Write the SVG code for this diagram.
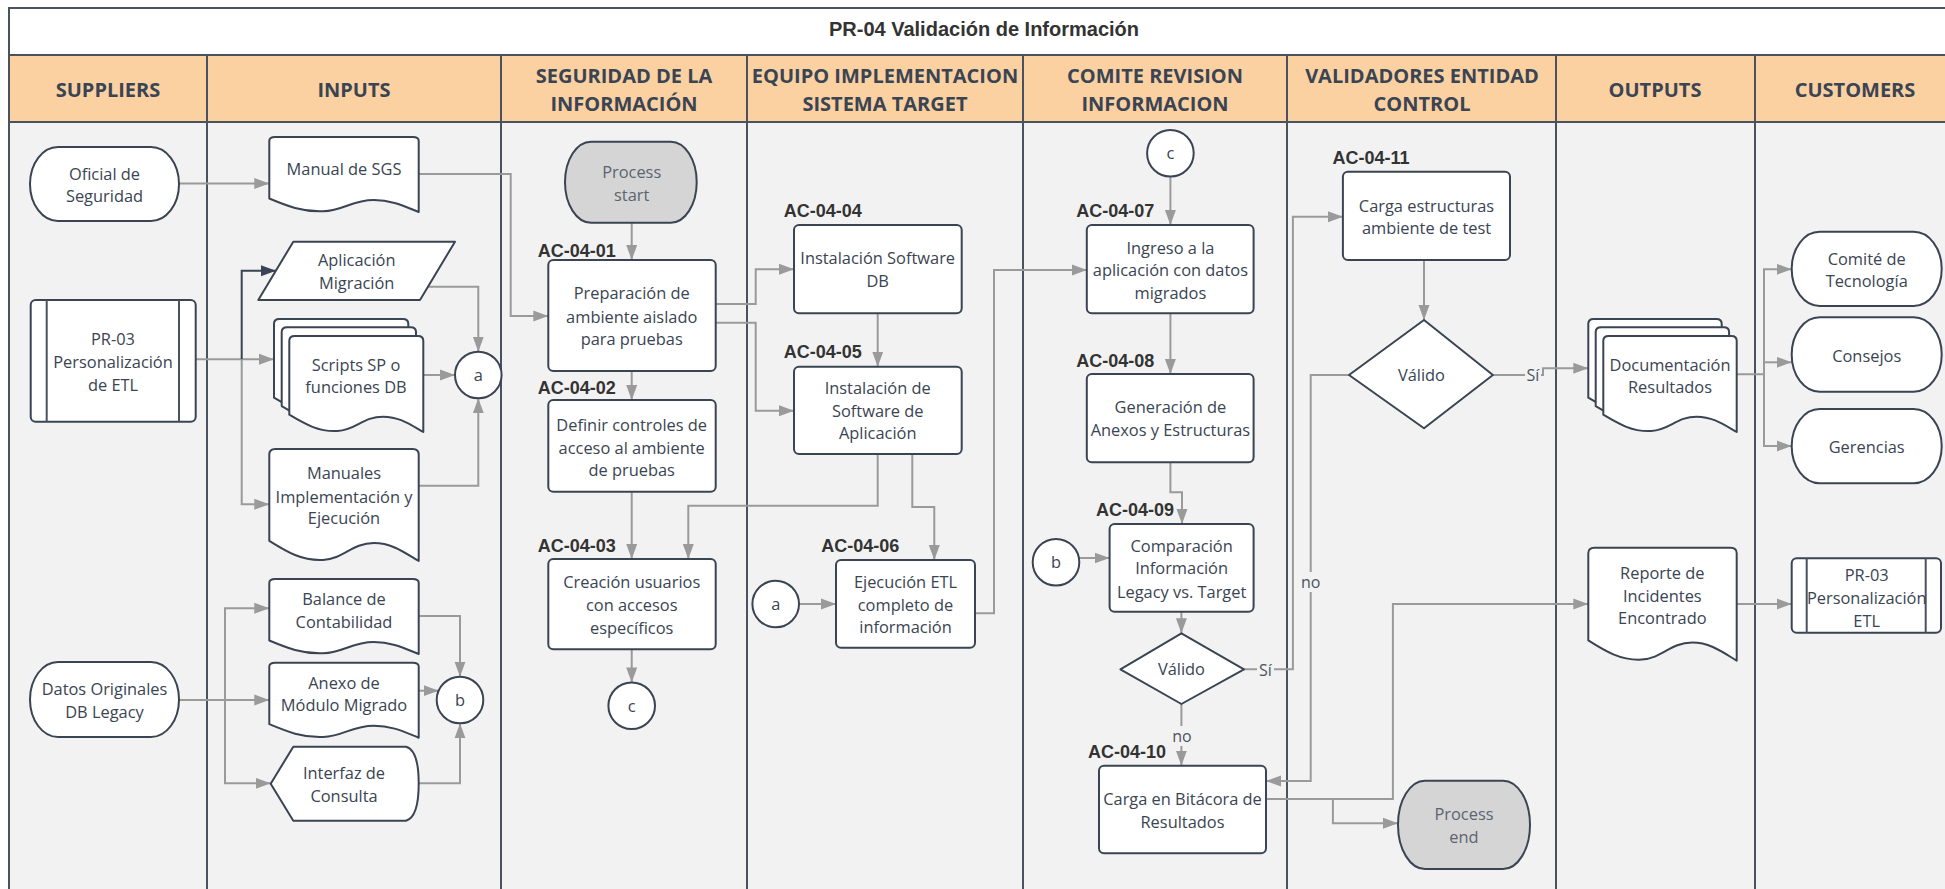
<svg xmlns="http://www.w3.org/2000/svg" width="1945" height="889" viewBox="0 0 1945 889">
<defs>
<style>
.ln{stroke:#4a5260;stroke-width:2;fill:none}
.hd{font-family:"Open Sans",sans-serif;font-weight:700;font-size:20px;fill:#3a4452;text-anchor:middle}
.t{font-family:"Open Sans",sans-serif;font-size:16.4px;fill:#3a4452;text-anchor:middle}
.tg{font-family:"Open Sans",sans-serif;font-size:16.4px;fill:#5b6471;text-anchor:middle}
.lt{font-family:"Open Sans",sans-serif;font-size:16px;fill:#4a5260;text-anchor:middle}
.ac{font-family:"Liberation Sans",Arial,sans-serif;font-weight:700;font-size:18px;fill:#333;text-anchor:end}
.sh{fill:#fff;stroke:#3a4452;stroke-width:2;stroke-linejoin:round}
.gr{fill:#d5d5d5;stroke:#3a4452;stroke-width:2}
.c{fill:none;stroke:#9a9a9a;stroke-width:2;marker-end:url(#ah)}
.cd{fill:none;stroke:#3a4452;stroke-width:2;marker-end:url(#ahd)}
.cn{fill:none;stroke:#9a9a9a;stroke-width:2}
.lb{fill:#f2f2f2}
</style>
<marker id="ah" markerUnits="userSpaceOnUse" markerWidth="16" markerHeight="12" refX="15" refY="6" orient="auto"><path d="M0,0.5 L15,6 L0,11.5 Z" fill="#9a9a9a"/></marker>
<marker id="ahd" markerUnits="userSpaceOnUse" markerWidth="16" markerHeight="12" refX="15" refY="6" orient="auto"><path d="M0,0.5 L15,6 L0,11.5 Z" fill="#3a4452"/></marker>
<path id="doc" d="M0,5 Q0,0 4,0 H96 Q100,0 100,5 V100 C90,92 82,84 70,84 C55,84 50,98 36,99 C22,100 12,92 0,82 Z" vector-effect="non-scaling-stroke"/>
</defs>

<g id="background">
<rect x="0" y="0" width="1945" height="889" fill="#fff"/>
<rect x="9" y="8" width="1950" height="47" fill="#fff"/>
<rect x="9" y="55" width="1950" height="67" fill="#fbd1a2"/>
<rect x="9" y="122" width="1950" height="770" fill="#f2f2f2"/>
<rect x="9" y="8" width="1950" height="885" class="ln"/>
<path class="ln" d="M9,55 H1959 M9,122 H1959 M207,55 V889 M501,55 V889 M747,55 V889 M1023,55 V889 M1287,55 V889 M1556,55 V889 M1755,55 V889"/>
<text x="984" y="36" font-family="Liberation Sans, Arial, sans-serif" font-weight="700" font-size="20" fill="#333" text-anchor="middle">PR-04 Validación de Información</text>
<text class="hd" x="108" y="97">SUPPLIERS</text>
<text class="hd" x="354" y="97">INPUTS</text>
<text class="hd" x="624" y="83">SEGURIDAD DE LA</text>
<text class="hd" x="624" y="111">INFORMACIÓN</text>
<text class="hd" x="885" y="83">EQUIPO IMPLEMENTACION</text>
<text class="hd" x="885" y="111">SISTEMA TARGET</text>
<text class="hd" x="1155" y="83">COMITE REVISION</text>
<text class="hd" x="1155" y="111">INFORMACION</text>
<text class="hd" x="1422" y="83">VALIDADORES ENTIDAD</text>
<text class="hd" x="1422" y="111">CONTROL</text>
<text class="hd" x="1655" y="97">OUTPUTS</text>
<text class="hd" x="1855" y="97">CUSTOMERS</text>
</g>

<g id="connectors">
<path class="c" d="M179,183.5 H269.3"/>
<path class="c" d="M418.7,174 H510.7 V316 H548.3"/>
<path class="c" d="M195.7,359.3 H274"/>
<path class="cd" d="M241.7,359.3 V270.7 H276"/>
<path class="c" d="M241.7,359.3 V504.3 H269.3"/>
<path class="c" d="M428,286.7 H478.3 V351.7"/>
<path class="c" d="M423.3,375 H455"/>
<path class="c" d="M418.7,485.7 H478.3 V398.3"/>
<path class="c" d="M179,700 H269.3"/>
<path class="c" d="M225,700 V608.3 H269.3"/>
<path class="c" d="M225,700 V783.3 H270.7"/>
<path class="c" d="M418.7,616 H460 V676.7"/>
<path class="c" d="M418.7,690.7 H438.6"/>
<path class="c" d="M418.7,783.3 H460 V723.3"/>
<path class="c" d="M631.7,222.7 V260"/>
<path class="c" d="M631.7,371 V400"/>
<path class="c" d="M631.7,491.7 V559"/>
<path class="c" d="M631.7,649.3 V682.4"/>
<path class="c" d="M715.7,304 H755.7 V269.3 H794"/>
<path class="c" d="M715.7,322.7 H755.7 V410.7 H794"/>
<path class="c" d="M877.7,313.3 V366.7"/>
<path class="c" d="M877.7,454 V505.7 H688.3 V559"/>
<path class="c" d="M912.3,454 V507 H934.3 V560"/>
<path class="c" d="M799,604 H836"/>
<path class="c" d="M975,613.3 H994 V270 H1086.8"/>
<path class="c" d="M1170.4,176.6 V225"/>
<path class="c" d="M1170.4,313.3 V374"/>
<path class="c" d="M1170.4,462.3 V492.3 H1182 V524"/>
<path class="c" d="M1079,558 H1109.6"/>
<path class="c" d="M1181.4,611.7 V633.3"/>
<path class="c" d="M1181.4,704 V765.7"/>
<path class="c" d="M1244,669.3 H1292.9 V216.7 H1342.9"/>
<path class="c" d="M1424,260 V320"/>
<path class="c" d="M1492.9,375 H1543 V368.3 H1588.3"/>
<path class="c" d="M1349,375 H1310.7 V781 H1266"/>
<path class="c" d="M1266,799 H1392.9 V604 H1588.3"/>
<path class="c" d="M1332.9,799 V823.3 H1398"/>
<path class="c" d="M1736.7,374.3 H1764 V269.3 H1791.7"/>
<path class="c" d="M1764,374.3 V446 H1791.7"/>
<path class="c" d="M1764,362.3 H1791.7"/>
<path class="c" d="M1736.7,604 H1791.7"/>
<rect class="lb" x="1171" y="726" width="22" height="20"/>
<text class="lt" x="1182" y="742">no</text>
<rect class="lb" x="1257" y="659" width="17" height="20"/>
<text class="lt" x="1265.5" y="675.5">Sí</text>
<rect class="lb" x="1525" y="365" width="16" height="20"/>
<text class="lt" x="1533" y="381">Sí</text>
<rect class="lb" x="1300" y="572" width="22" height="20"/>
<text class="lt" x="1310.7" y="588">no</text>
</g>

<g id="n-oficial"><rect class="sh" x="30" y="147" width="149" height="74" rx="28" ry="37"/><text class="t" x="104.5" y="179.5">Oficial de</text><text class="t" x="104.5" y="202">Seguridad</text></g>
<g id="n-pr03-sup"><rect class="sh" x="30.7" y="300" width="165" height="121.7" rx="5"/><path class="ln" d="M46.7,300 V421.7 M179,300 V421.7" stroke="#3a4452"/><text class="t" x="113" y="345">PR-03</text><text class="t" x="113" y="367.7">Personalización</text><text class="t" x="113" y="391">de ETL</text></g>
<g id="n-datos"><rect class="sh" x="30" y="662" width="149" height="75" rx="28" ry="37.5"/><text class="t" x="104.5" y="695">Datos Originales</text><text class="t" x="104.5" y="717.7">DB Legacy</text></g>

<g id="n-manual-sgs"><use href="#doc" class="sh" transform="translate(269.3,137) scale(1.494,0.75)"/><text class="t" x="344" y="175">Manual de SGS</text></g>
<g id="n-aplicacion"><polygon class="sh" points="293.3,241.7 455,241.7 420,300 258.3,300"/><text class="t" x="356.7" y="266">Aplicación</text><text class="t" x="356.7" y="289.3">Migración</text></g>
<g id="n-scripts"><use href="#doc" class="sh" transform="translate(274,319) scale(1.343,0.96)"/><use href="#doc" class="sh" transform="translate(281.7,327.3) scale(1.343,0.96)"/><use href="#doc" class="sh" transform="translate(289.3,336) scale(1.34,0.96)"/><text class="t" x="356" y="371">Scripts SP o</text><text class="t" x="356" y="392.7">funciones DB</text></g>
<g id="n-manuales"><use href="#doc" class="sh" transform="translate(269.3,449) scale(1.494,1.12)"/><text class="t" x="344" y="479.3">Manuales</text><text class="t" x="344" y="502.7">Implementación y</text><text class="t" x="344" y="524.3">Ejecución</text></g>
<g id="n-a1"><circle class="sh" cx="478.3" cy="375" r="23.3"/><text class="t" x="478.3" y="381">a</text></g>
<g id="n-balance"><use href="#doc" class="sh" transform="translate(269.3,579) scale(1.494,0.75)"/><text class="t" x="344" y="605.3">Balance de</text><text class="t" x="344" y="628.3">Contabilidad</text></g>
<g id="n-anexo"><use href="#doc" class="sh" transform="translate(269.3,662.7) scale(1.494,0.75)"/><text class="t" x="344" y="688.7">Anexo de</text><text class="t" x="344" y="711">Módulo Migrado</text></g>
<g id="n-interfaz"><path class="sh" d="M270.7,783.7 L293.3,746.7 H406 Q418.7,750 418.7,783.7 Q418.7,817 406,820.7 H293.3 Z"/><text class="t" x="344" y="779.3">Interfaz de</text><text class="t" x="344" y="801.7">Consulta</text></g>
<g id="n-b1"><circle class="sh" cx="460" cy="700" r="23.3"/><text class="t" x="460" y="706">b</text></g>

<g id="n-start"><rect class="gr" x="565" y="141.7" width="131.7" height="81" rx="26" ry="40.5"/><text class="tg" x="631.7" y="177.7">Process</text><text class="tg" x="631.7" y="201">start</text></g>
<g id="n-ac0401"><text class="ac" x="615.7" y="256.5">AC-04-01</text><rect class="sh" x="548.3" y="260" width="167.4" height="111" rx="5"/><text class="t" x="631.7" y="299.3">Preparación de</text><text class="t" x="631.7" y="322.7">ambiente aislado</text><text class="t" x="631.7" y="345.3">para pruebas</text></g>
<g id="n-ac0402"><text class="ac" x="615.7" y="394.2">AC-04-02</text><rect class="sh" x="548.3" y="400" width="167.4" height="91.7" rx="5"/><text class="t" x="631.7" y="431">Definir controles de</text><text class="t" x="631.7" y="453.7">acceso al ambiente</text><text class="t" x="631.7" y="476">de pruebas</text></g>
<g id="n-ac0403"><text class="ac" x="615.7" y="552.2">AC-04-03</text><rect class="sh" x="548.3" y="559" width="167.4" height="90.3" rx="5"/><text class="t" x="631.7" y="588.3">Creación usuarios</text><text class="t" x="631.7" y="611">con accesos</text><text class="t" x="631.7" y="633.7">específicos</text></g>
<g id="n-c1"><circle class="sh" cx="631.7" cy="705.7" r="23.3"/><text class="t" x="631.7" y="711.7">c</text></g>

<g id="n-ac0404"><text class="ac" x="861.7" y="217.2">AC-04-04</text><rect class="sh" x="794" y="225" width="167.7" height="88.3" rx="5"/><text class="t" x="877.7" y="264.3">Instalación Software</text><text class="t" x="877.7" y="287">DB</text></g>
<g id="n-ac0405"><text class="ac" x="861.7" y="358.2">AC-04-05</text><rect class="sh" x="794" y="366.7" width="167.7" height="87.3" rx="5"/><text class="t" x="877.7" y="394.3">Instalación de</text><text class="t" x="877.7" y="417">Software de</text><text class="t" x="877.7" y="439.3">Aplicación</text></g>
<g id="n-ac0406"><text class="ac" x="899.3" y="552.2">AC-04-06</text><rect class="sh" x="836" y="560" width="139" height="87.7" rx="5"/><text class="t" x="905.5" y="587.7">Ejecución ETL</text><text class="t" x="905.5" y="611">completo de</text><text class="t" x="905.5" y="633.3">información</text></g>
<g id="n-a2"><circle class="sh" cx="775.7" cy="604" r="23.3"/><text class="t" x="775.7" y="610">a</text></g>

<g id="n-c2"><circle class="sh" cx="1170.4" cy="153.3" r="23.3"/><text class="t" x="1170.4" y="159.3">c</text></g>
<g id="n-ac0407"><text class="ac" x="1154.3" y="217.2">AC-04-07</text><rect class="sh" x="1086.8" y="225" width="166.8" height="88.3" rx="5"/><text class="t" x="1170.4" y="253.7">Ingreso a la</text><text class="t" x="1170.4" y="276">aplicación con datos</text><text class="t" x="1170.4" y="298.7">migrados</text></g>
<g id="n-ac0408"><text class="ac" x="1154.3" y="366.5">AC-04-08</text><rect class="sh" x="1086.8" y="374" width="166.8" height="88.3" rx="5"/><text class="t" x="1170.4" y="413.3">Generación de</text><text class="t" x="1170.4" y="436">Anexos y Estructuras</text></g>
<g id="n-ac0409"><text class="ac" x="1174" y="515.8">AC-04-09</text><rect class="sh" x="1109.6" y="524" width="144" height="87.7" rx="5"/><text class="t" x="1181.6" y="552">Comparación</text><text class="t" x="1181.6" y="574.3">Información</text><text class="t" x="1181.6" y="597.7">Legacy vs. Target</text></g>
<g id="n-b2"><circle class="sh" cx="1056" cy="562.3" r="23.3"/><text class="t" x="1056" y="568.3">b</text></g>
<g id="n-valido1"><polygon class="sh" points="1181.4,633.3 1244,669.3 1181.4,704 1120.4,669.3"/><text class="t" x="1181.4" y="675.3">Válido</text></g>
<g id="n-ac0410"><text class="ac" x="1166" y="758.2">AC-04-10</text><rect class="sh" x="1099" y="765.7" width="167" height="87.6" rx="5"/><text class="t" x="1182.5" y="805">Carga en Bitácora de</text><text class="t" x="1182.5" y="827.7">Resultados</text></g>
<g id="n-end"><rect class="gr" x="1398" y="780.7" width="132" height="88.3" rx="27" ry="44"/><text class="tg" x="1464" y="820.3">Process</text><text class="tg" x="1464" y="842.7">end</text></g>

<g id="n-ac0411"><text class="ac" x="1409.6" y="163.8">AC-04-11</text><rect class="sh" x="1342.9" y="171.7" width="167.1" height="88.3" rx="5"/><text class="t" x="1426.5" y="212">Carga estructuras</text><text class="t" x="1426.5" y="234.3">ambiente de test</text></g>
<g id="n-valido2"><polygon class="sh" points="1424,320 1492.9,375 1424,428.3 1349,375"/><text class="t" x="1421.4" y="381">Válido</text></g>

<g id="n-documentacion"><use href="#doc" class="sh" transform="translate(1588.3,319) scale(1.334,0.96)"/><use href="#doc" class="sh" transform="translate(1595.7,327.3) scale(1.334,0.96)"/><use href="#doc" class="sh" transform="translate(1603.3,336) scale(1.334,0.96)"/><text class="t" x="1670" y="371">Documentación</text><text class="t" x="1670" y="392.7">Resultados</text></g>
<g id="n-reporte"><use href="#doc" class="sh" transform="translate(1588.3,547.7) scale(1.484,1.13)"/><text class="t" x="1662.3" y="578.7">Reporte de</text><text class="t" x="1662.3" y="601.7">Incidentes</text><text class="t" x="1662.3" y="624.3">Encontrado</text></g>

<g id="n-comite"><rect class="sh" x="1791.7" y="231.7" width="150" height="74.3" rx="28" ry="37"/><text class="t" x="1866.7" y="265">Comité de</text><text class="t" x="1866.7" y="287">Tecnología</text></g>
<g id="n-consejos"><rect class="sh" x="1791.7" y="317.3" width="150" height="74.4" rx="28" ry="37"/><text class="t" x="1866.7" y="361.7">Consejos</text></g>
<g id="n-gerencias"><rect class="sh" x="1791.7" y="409" width="150" height="74.3" rx="28" ry="37"/><text class="t" x="1866.7" y="452.7">Gerencias</text></g>
<g id="n-pr03-cust"><rect class="sh" x="1791.7" y="558.3" width="149.3" height="74.4" rx="5"/><path class="ln" d="M1806.7,558.3 V632.7 M1925.7,558.3 V632.7" stroke="#3a4452"/><text class="t" x="1866.7" y="581">PR-03</text><text class="t" x="1866.7" y="603.7">Personalización</text><text class="t" x="1866.7" y="627">ETL</text></g>
</svg>
